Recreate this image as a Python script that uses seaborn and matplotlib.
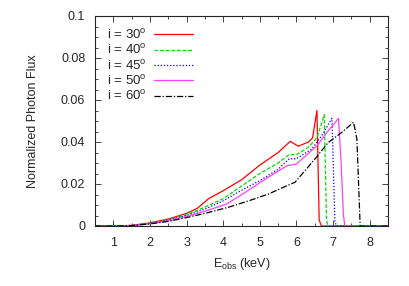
import matplotlib
matplotlib.use("Agg")
import matplotlib.pyplot as plt
import seaborn as sns
import pandas as pd
from matplotlib.ticker import MultipleLocator

sns.set_style("ticks")
plt.rcParams['font.family'] = ['Liberation Sans', 'DejaVu Sans']
plt.rcParams['mathtext.fontset'] = 'custom'
plt.rcParams['mathtext.rm'] = 'Liberation Sans'

labels = ["i = 30$^{\\rm o}$", "i = 40$^{\\rm o}$", "i = 45$^{\\rm o}$", "i = 50$^{\\rm o}$", "i = 60$^{\\rm o}$"]

x30 = [0.5, 1.0, 1.5, 2.0, 2.5, 3.0, 3.3, 3.6, 4.0, 4.5, 5.0, 5.5, 5.83, 6.05, 6.33, 6.44, 6.56, 6.62, 6.68, 8.5]
y30 = [0, 0, 0.0003, 0.0015, 0.0033, 0.006, 0.0085, 0.013, 0.0168, 0.022, 0.029, 0.035, 0.0403, 0.038, 0.040, 0.042, 0.055, 0.003, 0, 0]

x40 = [0.5, 1.0, 1.5, 2.0, 2.5, 3.0, 3.5, 4.0, 4.5, 5.0, 5.5, 5.8, 6.0, 6.33, 6.56, 6.76, 6.82, 6.86, 8.5]
y40 = [0, 0, 0.0002, 0.0013, 0.003, 0.0053, 0.009, 0.013, 0.019, 0.025, 0.030, 0.034, 0.034, 0.0375, 0.042, 0.053, 0.003, 0, 0]

x45 = [0.5, 1.0, 1.5, 2.0, 2.5, 3.0, 3.5, 4.0, 4.5, 5.0, 5.5, 5.8, 6.0, 6.42, 6.69, 6.97, 7.05, 7.1, 8.5]
y45 = [0, 0, 0.0002, 0.0012, 0.0028, 0.005, 0.008, 0.012, 0.017, 0.0216, 0.027, 0.032, 0.032, 0.0367, 0.043, 0.0513, 0.002, 0, 0]

x50 = [0.5, 1.0, 1.5, 2.0, 2.5, 3.0, 3.5, 4.1, 4.6, 5.23, 5.74, 6.0, 6.56, 6.87, 7.15, 7.22, 7.28, 7.32, 8.5]
y50 = [0, 0, 0.0002, 0.0011, 0.0025, 0.0045, 0.007, 0.0105, 0.016, 0.0232, 0.0287, 0.0295, 0.0382, 0.0454, 0.0513, 0.030, 0.006, 0, 0]

x60 = [0.5, 1.0, 1.5, 2.0, 2.5, 3.0, 3.5, 4.14, 4.7, 5.23, 5.78, 5.96, 6.51, 6.87, 7.24, 7.56, 7.65, 7.74, 8.5]
y60 = [0, 0, 0.0002, 0.001, 0.0022, 0.004, 0.006, 0.0089, 0.012, 0.0152, 0.0195, 0.0208, 0.032, 0.0398, 0.0446, 0.0494, 0.0414, 0, 0]

series = [(x30, y30), (x40, y40), (x45, y45), (x50, y50), (x60, y60)]
colors = ["#ff0000", "#00dd00", "#0000ff", "#ff40ff", "#000000"]
styles = ["-", (0, (3, 1.5)), (0, (1, 1.5)), "-", (0, (5, 1.5, 1, 1.5))]

fig = plt.figure(figsize=(4.09, 2.86), dpi=100)
ax = fig.add_axes([95/409, 1-226/286, (388-95)/409, (226-16)/286])

for (xs, ys), lab, c, ls in zip(series, labels, colors, styles):
    df = pd.DataFrame({"E": xs, "F": ys})
    sns.lineplot(data=df, x="E", y="F", ax=ax, color=c, linestyle=ls, linewidth=0.9, label=lab)

ax.set_xlim(0.5, 8.5)
ax.set_ylim(0, 0.1)
ax.xaxis.set_major_locator(MultipleLocator(1))
ax.xaxis.set_minor_locator(MultipleLocator(0.5))
ax.yaxis.set_major_locator(MultipleLocator(0.02))
ax.yaxis.set_minor_locator(MultipleLocator(0.005))
ax.set_yticks([0, 0.02, 0.04, 0.06, 0.08, 0.1])
ax.set_yticklabels(["0", "0.02", "0.04", "0.06", "0.08", "0.1"])
ax.tick_params(which="both", direction="in", top=True, right=True, labelsize=9, width=0.6)
ax.tick_params(which="major", length=4)
ax.tick_params(which="minor", length=2)
ax.tick_params(axis="x", pad=8)
ax.tick_params(axis="y", pad=7)
for s in ax.spines.values():
    s.set_linewidth(0.8)
ax.set_xlabel("E$_{\\rm obs}$ (keV)", fontsize=9, labelpad=5)
ax.set_ylabel("Normalized Photon Flux", fontsize=9, labelpad=16)
leg = ax.legend(loc="upper left", frameon=False, fontsize=9.5, handlelength=2.9,
                labelspacing=0.1, borderaxespad=0.55, borderpad=0.35,
                markerfirst=False, handletextpad=0.6)
fig.savefig("out.png", dpi=100)
